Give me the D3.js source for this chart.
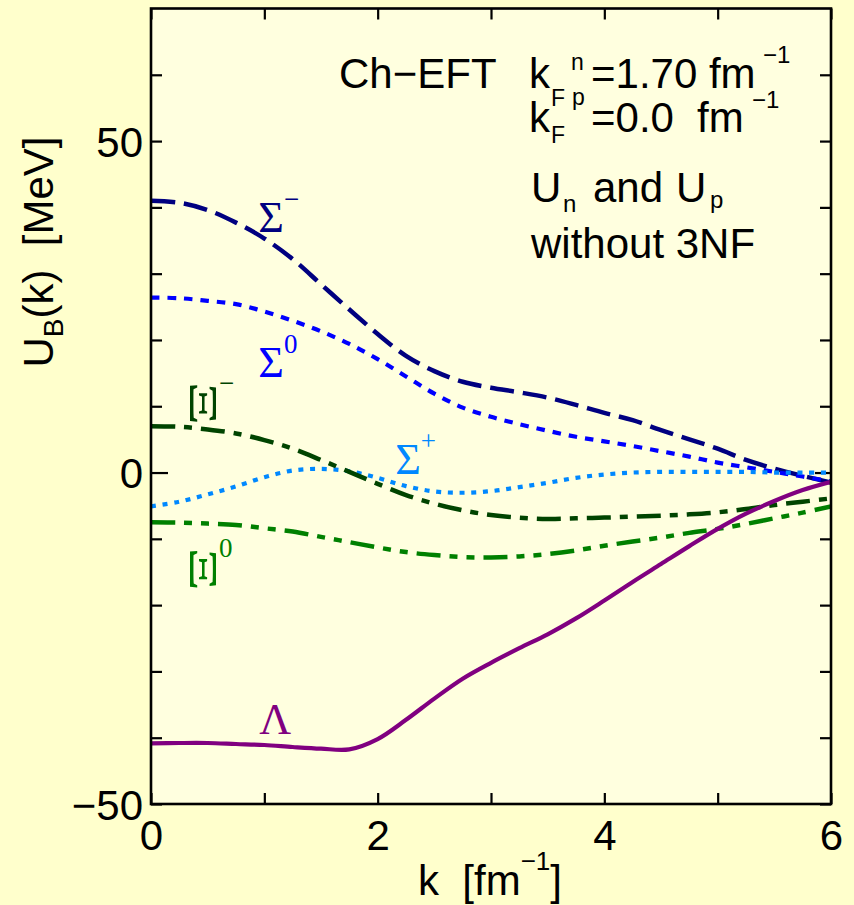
<!DOCTYPE html>
<html><head><meta charset="utf-8">
<script src="https://cdn.jsdelivr.net/npm/d3@7"></script>
<style>html,body{margin:0;padding:0;background:#FFFFCC;} svg{display:block} text{white-space:pre}</style>
</head><body>
<svg id="chart" width="854" height="905"></svg>
<script>
// ---- data ----
const kValues = [0,0.25,0.5,0.75,1,1.25,1.5,1.75,2,2.25,2.5,2.75,3,3.25,3.5,3.75,4,4.25,4.5,4.75,5,5.25,5.5,5.75,6];
const sigmaMinus = [41.0,40.7,39.6,37.7,35.3,32.2,28.4,24.6,20.9,17.6,15.3,13.7,12.8,12.1,11.3,10.2,9.0,7.9,6.4,5.0,3.6,1.9,0.6,-0.5,-1.5];
const sigmaZero  = [26.4,26.3,25.9,25.4,24.3,22.9,21.3,19.4,17.1,14.5,11.9,9.8,8.4,7.3,6.3,5.4,4.7,4.0,3.2,2.4,1.5,0.8,0.1,-0.6,-1.35];
const sigmaPlus  = [-5.1,-4.4,-3.3,-2.1,-0.7,0.3,0.55,0.2,-0.8,-2.05,-2.85,-3.05,-2.8,-2.2,-1.55,-0.8,-0.3,0.0,0.1,0.1,0.1,0.1,0.0,0.0,0.0];
const xiMinus    = [7.0,6.9,6.5,5.9,4.9,3.6,1.9,0.1,-1.7,-3.4,-4.7,-5.7,-6.4,-6.8,-7.0,-6.9,-6.8,-6.65,-6.5,-6.3,-6.0,-5.5,-4.9,-4.4,-3.9];
const xiZero     = [-7.5,-7.55,-7.7,-7.9,-8.4,-8.9,-9.7,-10.5,-11.3,-12.0,-12.45,-12.75,-12.8,-12.65,-12.3,-11.75,-11.05,-10.4,-9.8,-9.1,-8.5,-7.75,-6.9,-6.05,-5.1];
const lambdaU    = [-40.85,-40.8,-40.8,-40.95,-41.1,-41.4,-41.65,-41.75,-40.2,-37.3,-34.1,-31.1,-28.7,-26.5,-24.4,-22.0,-19.3,-16.5,-13.8,-11.1,-8.5,-6.2,-4.3,-2.65,-1.4];

const yTickValues = [-50,-40,-30,-20,-10,0,10,20,30,40,50,60];
const yTickLabels = [-50,0,50];
const xTickValues = [0,1,2,3,4,5,6];
const xTickLabels = [0,2,4,6];

const seriesNames = ["sigmaMinus","sigmaZero","sigmaPlus","xiMinus","xiZero","lambda"];
const seriesData = [sigmaMinus, sigmaZero, sigmaPlus, xiMinus, xiZero, lambdaU];
const labelGlyphs = ["Σ","Σ","Σ","Ξ","Ξ","Λ"];
const labelSups   = ["−","0","+","−","0",""];

// ---- styles / layout ----
const styles = {
  sigmaMinus: {color:"#000080", width:4.5, dash:"24,9"},
  sigmaZero:  {color:"#0000FF", width:4.2, dash:"8.5,8"},
  sigmaPlus:  {color:"#0088FF", width:4.2, dash:"5,6.7"},
  xiMinus:    {color:"#004400", width:4.5, dash:"24,9,8,9"},
  xiZero:     {color:"#008000", width:4.5, dash:"24,9,8,9,8,9"},
  lambda:     {color:"#800080", width:4.2, dash:null}
};
const labelPos = {
  sigmaMinus: {k:0.947, u:36.25, rot:false},
  sigmaZero:  {k:0.947, u:14.4, rot:false},
  sigmaPlus:  {k:2.155, u:-0.2, rot:false},
  xiMinus:    {k:0.467, u:10.4, rot:true},
  xiZero:     {k:0.467, u:-14.6, rot:true},
  lambda:     {k:0.955, u:-39.5, rot:false}
};

const svg = d3.select("#chart");
const W = 854, H = 905;
const x = d3.scaleLinear().domain([0,6]).range([151,831]);
const y = d3.scaleLinear().domain([-50,70]).range([804,8.5]);
const SANS = "'Liberation Sans', Arial, Helvetica, sans-serif";
const SERIF = "'Liberation Serif', 'Times New Roman', serif";

svg.append("rect").attr("x",0).attr("y",0).attr("width",W).attr("height",H).attr("fill","#FFFFCC");
svg.append("rect").attr("x",x(0)).attr("y",y(70)).attr("width",x(6)-x(0)).attr("height",y(-50)-y(70)).attr("fill","#FFFFDF");

svg.append("clipPath").attr("id","clip").append("rect")
  .attr("x",x(0)).attr("y",y(70)).attr("width",x(6)-x(0)).attr("height",y(-50)-y(70));

// ---- axes ----
function styleAxis(g){
  g.select(".domain").remove();
  g.selectAll(".tick line").attr("stroke","#000").attr("stroke-width",2.2);
  g.selectAll(".tick text").attr("font-family",SANS).attr("font-size",42).attr("fill","#000");
}
const fmt = d3.format("d");
svg.append("g").attr("transform",`translate(${x(0)},0)`)
  .call(d3.axisLeft(y).tickValues(yTickValues).tickSizeInner(-11).tickSizeOuter(0).tickPadding(8)
    .tickFormat(d => yTickLabels.includes(d) ? fmt(d) : ""))
  .call(styleAxis)
  .call(g => g.selectAll(".tick text").attr("dy","0.36em"))
  .call(g => g.selectAll(".tick").filter(d => d===0).select("line").attr("x2",17));
svg.append("g").attr("transform",`translate(${x(6)},0)`)
  .call(d3.axisRight(y).tickValues(yTickValues).tickSizeInner(-11).tickSizeOuter(0).tickFormat(""))
  .call(styleAxis)
  .call(g => g.selectAll(".tick").filter(d => d===0).select("line").attr("x2",-16));
svg.append("g").attr("transform",`translate(0,${y(-50)})`)
  .call(d3.axisBottom(x).tickValues(xTickValues).tickSizeInner(-11).tickSizeOuter(0).tickPadding(16)
    .tickFormat(d => xTickLabels.includes(d) ? fmt(d) : ""))
  .call(styleAxis);
svg.append("g").attr("transform",`translate(0,${y(70)})`)
  .call(d3.axisTop(x).tickValues(xTickValues).tickSizeInner(-11).tickSizeOuter(0).tickFormat(""))
  .call(styleAxis);

// ---- curves ----
const line = d3.line().x(d => x(d[0])).y(d => y(d[1])).curve(d3.curveCatmullRom.alpha(0.5));
const curves = svg.append("g").attr("clip-path","url(#clip)");
seriesNames.forEach((name,i) => {
  const pts = kValues.map((k,j) => [k, seriesData[i][j]]);
  const st = styles[name];
  const p = curves.append("path").datum(pts).attr("d",line)
    .attr("fill","none").attr("stroke",st.color).attr("stroke-width",st.width)
    .attr("stroke-linejoin","round");
  if (st.dash) p.attr("stroke-dasharray",st.dash);
});

// ---- curve labels ----
seriesNames.forEach((name,i) => {
  const lp = labelPos[name], col = styles[name].color;
  const px = x(lp.k), py = y(lp.u);
  if (!lp.rot) {
    const t = svg.append("text").attr("x",px).attr("y",py).attr("font-family",SERIF)
      .attr("font-size",44).attr("fill",col).text(labelGlyphs[i]);
    if (labelSups[i]) t.append("tspan").attr("dy",-24).attr("font-size",27).text(labelSups[i]);
  } else {
    // glyph drawn turned on its side, as in the reference
    const g = svg.append("text").attr("text-anchor","middle").attr("dominant-baseline","central")
      .attr("font-family",SERIF).attr("font-size",40).attr("fill",col).text(labelGlyphs[i]);
    const bw = g.node().getBBox().width || 29;
    const sx = 44 / bw;
    g.attr("transform",`translate(${px},${py}) rotate(90) scale(${sx},1)`);
    svg.append("text").attr("x",px+15).attr("y",py-12).attr("font-family",SERIF)
      .attr("font-size",27).attr("fill",col).text(labelSups[i]);
  }
});

// ---- annotation text ----
function txt(px,py,s,size,family){
  return svg.append("text").attr("x",px).attr("y",py).attr("font-family",family||SANS)
    .attr("font-size",size).attr("fill","#000").text(s);
}
txt(339,88,"Ch−EFT",42);
txt(529,88,"k",42); txt(551,106,"F",23); txt(571,70,"n",23);
txt(591,88,"=1.70 fm",42); txt(763,63,"−1",24);
txt(529,132,"k",42); txt(551,143,"F",23); txt(572,105,"p",23);
txt(591,132,"=0.0",42); txt(697,132,"fm",42); txt(752,108,"−1",24);
txt(531,202,"U",42); txt(563,212,"n",24); txt(593,202,"and",42); txt(676,202,"U",42); txt(710,208,"p",24);
txt(531,258,"without 3NF",42);

// ---- axis titles ----
const xt = svg.append("text").attr("x",418).attr("y",895).attr("font-family",SANS).attr("font-size",42).attr("fill","#000");
xt.append("tspan").text("k  [fm");
xt.append("tspan").attr("dy",-25).attr("font-size",26).text("−1");
xt.append("tspan").attr("dy",25).text("]");

const yt = svg.append("text").attr("transform","translate(53,252) rotate(-90)").attr("text-anchor","middle")
  .attr("font-family",SANS).attr("font-size",42).attr("fill","#000");
yt.append("tspan").text("U");
yt.append("tspan").attr("dy",10).attr("font-size",28).text("B");
yt.append("tspan").attr("dy",-10).text("(k)  [MeV]");

// ---- frame ----
svg.append("rect").attr("x",x(0)).attr("y",y(70)).attr("width",x(6)-x(0)).attr("height",y(-50)-y(70))
  .attr("fill","none").attr("stroke","#000").attr("stroke-width",2.6);
</script>
</body></html>
